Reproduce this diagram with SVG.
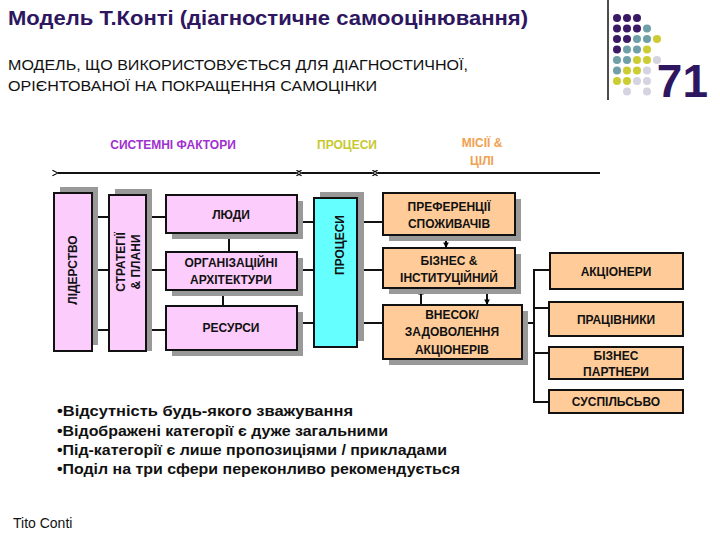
<svg xmlns="http://www.w3.org/2000/svg" width="720" height="540" viewBox="0 0 720 540">
<defs>
<marker id="al" viewBox="0 0 10 10" refX="1" refY="5" markerWidth="7" markerHeight="7" orient="auto-start-reverse" markerUnits="userSpaceOnUse"><path d="M9,1 L1,5 L9,9" fill="none" stroke="#000" stroke-width="1.5"/></marker>
<marker id="ah" viewBox="0 0 10 10" refX="9" refY="5" markerWidth="7" markerHeight="7" orient="auto" markerUnits="userSpaceOnUse"><path d="M1,1 L9,5 L1,9 Z" fill="#000"/></marker>
</defs>
<style>
.t{font-family:"Liberation Sans",Arial,sans-serif}
.b{font-family:"Liberation Sans",Arial,sans-serif;font-weight:bold;font-size:12px;fill:#111;text-anchor:middle}
.pk{fill:#FCCCFC;stroke:#111;stroke-width:2}
.cy{fill:#66FFFF;stroke:#111;stroke-width:2}
.pe{fill:#FFCC99;stroke:#111;stroke-width:2}
.sh{fill:#999}
.ln{stroke:#111;stroke-width:2;fill:none}
</style>
<rect width="720" height="540" fill="#fff"/>
<text class="t" x="8" y="25" font-size="20" font-weight="bold" fill="#2E1660" textLength="520" lengthAdjust="spacingAndGlyphs">Модель Т.Конті (діагностичне самооцінювання)</text>
<text class="t" x="8" y="70" font-size="14" fill="#111" textLength="460" lengthAdjust="spacingAndGlyphs">МОДЕЛЬ, ЩО ВИКОРИСТОВУЄТЬСЯ ДЛЯ ДІАГНОСТИЧНОЇ,</text>
<text class="t" x="8" y="91" font-size="14" fill="#111" textLength="369" lengthAdjust="spacingAndGlyphs">ОРІЄНТОВАНОЇ НА ПОКРАЩЕННЯ САМОЦІНКИ</text>
<line x1="608" y1="0" x2="608" y2="100" stroke="#111" stroke-width="1.5"/>
<g id="dots">
<g fill="#3A1A66">
<circle cx="617" cy="18" r="4"/><circle cx="627" cy="18" r="4"/><circle cx="637" cy="18" r="4"/>
<circle cx="617" cy="28.5" r="4"/><circle cx="627" cy="28.5" r="4"/><circle cx="637" cy="28.5" r="4"/>
<circle cx="617" cy="39" r="4"/><circle cx="627" cy="39" r="4"/>
<circle cx="617" cy="49.5" r="4"/>
</g>
<g fill="#6FA0A8">
<circle cx="647" cy="28.5" r="4"/>
<circle cx="637" cy="39" r="4"/><circle cx="647" cy="39" r="4"/>
<circle cx="627" cy="49.5" r="4"/><circle cx="637" cy="49.5" r="4"/>
<circle cx="617" cy="60" r="4"/><circle cx="627" cy="60" r="4"/>
<circle cx="617" cy="70.5" r="4"/>
</g>
<g fill="#CCCC33">
<circle cx="657" cy="39" r="4"/>
<circle cx="647" cy="49.5" r="4"/>
<circle cx="637" cy="60" r="4"/><circle cx="647" cy="60" r="4"/>
<circle cx="627" cy="70.5" r="4"/><circle cx="637" cy="70.5" r="4"/>
<circle cx="617" cy="81" r="4"/><circle cx="627" cy="81" r="4"/>
</g>
<g fill="#D4D4E0">
<circle cx="657" cy="60" r="4"/>
<circle cx="647" cy="70.5" r="4"/>
<circle cx="637" cy="81" r="4"/><circle cx="647" cy="81" r="4"/>
<circle cx="627" cy="91.5" r="4"/><circle cx="647" cy="91.5" r="4"/>
</g>
</g>
<text class="t" x="708" y="97" font-size="46" font-weight="bold" fill="#2E1660" text-anchor="end">71</text>

<text class="t" x="173" y="149" font-size="12" font-weight="bold" fill="#A030D0" text-anchor="middle">СИСТЕМНІ ФАКТОРИ</text>
<text class="t" x="347" y="149" font-size="12" font-weight="bold" fill="#C8C830" text-anchor="middle">ПРОЦЕСИ</text>
<text class="t" x="482" y="147" font-size="12" font-weight="bold" fill="#F0A050" text-anchor="middle">МІСІЇ &amp;</text>
<text class="t" x="482" y="165" font-size="12" font-weight="bold" fill="#F0A050" text-anchor="middle">ЦІЛІ</text>

<g id="connectors">
<line class="ln" x1="58" y1="173" x2="296" y2="173" marker-start="url(#al)" marker-end="url(#al)"/>
<line class="ln" x1="302" y1="173" x2="372" y2="173" marker-start="url(#al)" marker-end="url(#al)"/>
<line class="ln" x1="378" y1="173" x2="600" y2="173" marker-start="url(#al)"/>
<line class="ln" x1="98" y1="217" x2="109" y2="217"/>
<line class="ln" x1="98" y1="270" x2="109" y2="270"/>
<line class="ln" x1="98" y1="330" x2="109" y2="330"/>
<line class="ln" x1="152" y1="217" x2="166" y2="217"/>
<line class="ln" x1="152" y1="270" x2="166" y2="270"/>
<line class="ln" x1="152" y1="330" x2="166" y2="330"/>
<line class="ln" x1="229" y1="233" x2="229" y2="252"/>
<line class="ln" x1="223" y1="290" x2="223" y2="306"/>
<line class="ln" x1="303" y1="222" x2="314" y2="222"/>
<line class="ln" x1="303" y1="270" x2="314" y2="270"/>
<line class="ln" x1="303" y1="323" x2="314" y2="323"/>
<line class="ln" x1="363" y1="222" x2="383" y2="222"/>
<line class="ln" x1="363" y1="270" x2="383" y2="270"/>
<line class="ln" x1="363" y1="323" x2="383" y2="323"/>
<line class="ln" x1="446" y1="235" x2="446" y2="248" marker-end="url(#ah)"/>
<line class="ln" x1="421" y1="305" x2="421" y2="289" marker-end="url(#ah)"/>
<line class="ln" x1="487" y1="289" x2="487" y2="305" marker-end="url(#ah)"/>
<line class="ln" x1="510" y1="323" x2="534" y2="323"/>
<line class="ln" x1="534" y1="270" x2="534" y2="402"/>
<line class="ln" x1="533" y1="270" x2="550" y2="270"/>
<line class="ln" x1="533" y1="308" x2="549" y2="308"/>
<line class="ln" x1="533" y1="353" x2="549" y2="353"/>
<line class="ln" x1="533" y1="402" x2="549" y2="402"/>
</g>

<g id="n-liderstvo">
<rect class="sh" x="60" y="187" width="38" height="158"/>
<rect class="pk" x="54" y="193" width="38" height="158"/>
<text class="b" transform="translate(77,270) rotate(-90)">ЛІДЕРСТВО</text>
</g>
<g id="n-strategii">
<rect class="sh" x="115" y="189" width="37" height="162"/>
<rect class="pk" x="109" y="195" width="37" height="156"/>
<text class="b" transform="translate(125,262) rotate(-90)">СТРАТЕГІЇ</text>
<text class="b" transform="translate(140,262) rotate(-90)">&amp; ПЛАНИ</text>
</g>
<g id="n-liudy">
<rect class="sh" x="172" y="201" width="131" height="38"/>
<rect class="pk" x="166" y="195" width="131" height="38"/>
<text class="b" x="231" y="219">ЛЮДИ</text>
</g>
<g id="n-org">
<rect class="sh" x="172" y="258" width="131" height="38"/>
<rect class="pk" x="166" y="252" width="131" height="38"/>
<text class="b" x="231" y="267">ОРГАНІЗАЦІЙНІ</text>
<text class="b" x="231" y="284">АРХІТЕКТУРИ</text>
</g>
<g id="n-resursy">
<rect class="sh" x="172" y="312" width="131" height="44"/>
<rect class="pk" x="166" y="306" width="131" height="44"/>
<text class="b" x="231" y="332">РЕСУРСИ</text>
</g>
<g id="n-protsesy">
<rect class="sh" x="320" y="192" width="44" height="149"/>
<rect class="cy" x="314" y="198" width="43" height="149"/>
<text class="b" transform="translate(344,245) rotate(-90)">ПРОЦЕСИ</text>
</g>
<g id="n-pref">
<rect class="sh" x="389" y="199" width="132" height="42"/>
<rect class="pe" x="383" y="193" width="132" height="42"/>
<text class="b" x="449" y="211">ПРЕФЕРЕНЦІЇ</text>
<text class="b" x="449" y="228">СПОЖИВАЧІВ</text>
</g>
<g id="n-biznes">
<rect class="sh" x="389" y="254" width="132" height="40"/>
<rect class="pe" x="383" y="248" width="132" height="40"/>
<text class="b" x="449" y="265">БІЗНЕС &amp;</text>
<text class="b" x="449" y="282">ІНСТИТУЦІЙНИЙ</text>
</g>
<g id="n-vnesok">
<rect class="sh" x="389" y="311" width="139" height="54"/>
<rect class="pe" x="383" y="305" width="139" height="54"/>
<text class="b" x="452" y="319">ВНЕСОК/</text>
<text class="b" x="452" y="336">ЗАДОВОЛЕННЯ</text>
<text class="b" x="452" y="354">АКЦІОНЕРІВ</text>
</g>
<g id="n-aktsionery">
<rect class="pe" x="550" y="253" width="133" height="36"/>
<text class="b" x="616" y="276">АКЦІОНЕРИ</text>
</g>
<g id="n-pratsivnyky">
<rect class="pe" x="549" y="302" width="134" height="34"/>
<text class="b" x="616" y="324">ПРАЦІВНИКИ</text>
</g>
<g id="n-partnery">
<rect class="pe" x="549" y="347" width="134" height="32"/>
<text class="b" x="616" y="360">БІЗНЕС</text>
<text class="b" x="616" y="376">ПАРТНЕРИ</text>
</g>
<g id="n-suspilstvo">
<rect class="pe" x="549" y="390" width="134" height="23"/>
<text class="b" x="616" y="406">СУСПІЛЬСЬВО</text>
</g>

<g id="notes" class="t" font-size="14" font-weight="bold" fill="#111">
<text x="57" y="416" textLength="296" lengthAdjust="spacingAndGlyphs">•Відсутність будь-якого зважування</text>
<text x="57" y="436" textLength="331" lengthAdjust="spacingAndGlyphs">•Відображені категорії є дуже загальними</text>
<text x="57" y="455" textLength="390" lengthAdjust="spacingAndGlyphs">•Під-категорії є лише пропозиціями / прикладами</text>
<text x="57" y="474" textLength="403" lengthAdjust="spacingAndGlyphs">•Поділ на три сфери переконливо рекомендується</text>
</g>
<text class="t" x="13" y="528" font-size="14" fill="#111">Tito Conti</text>
</svg>
